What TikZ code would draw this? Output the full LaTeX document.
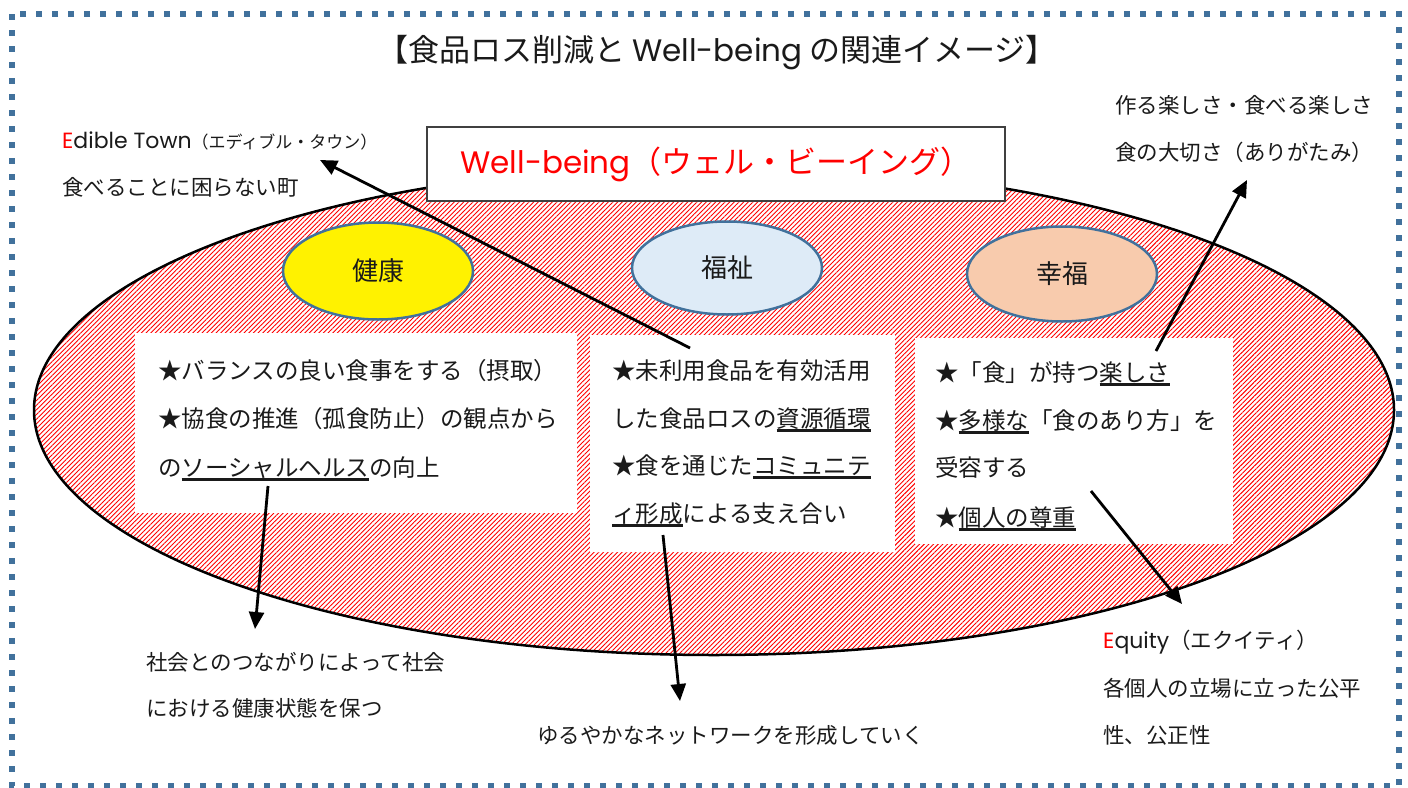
\documentclass[tikz,border=0pt]{standalone}
\usepackage{fontspec}
\setmainfont{Noto Sans CJK JP}
\newfontfamily\latinf{Poppins}
\usetikzlibrary{shapes.geometric,patterns.meta,arrows.meta}
\definecolor{bluegray}{HTML}{41719C}
\definecolor{ltblue}{HTML}{DEEBF7}
\definecolor{peach}{HTML}{F8CBAD}
\definecolor{txtcol}{HTML}{1A1A1A}
\newcommand\myul[1]{\setbox0=\hbox{#1}\rlap{\rule[-4.6pt]{\wd0}{2.6pt}}\box0}
\begin{document}
\begin{tikzpicture}[x=1pt,y=-1pt,
  bodytxt/.style={anchor=base west,inner sep=0pt,text=txtcol,font=\fontsize{23.5}{23.5}\selectfont},
  outtxt/.style={anchor=base west,inner sep=0pt,text=txtcol,font=\fontsize{21.5}{21.5}\selectfont},
  whitebox/.style={fill=white,draw=none,inner sep=0pt},
  smallell/.style={ellipse,draw=bluegray,line width=2.5pt,inner sep=0pt,font=\fontsize{26}{26}\selectfont,text=txtcol},
  arr/.style={line width=2.8pt,-{Triangle[length=17pt,width=15pt]}},
]
\useasboundingbox (0,0) rectangle (1408,787);
\fill[white] (0,0) rectangle (1408,787);
\draw[bluegray,line width=6pt,dash pattern=on 6pt off 10pt] (12,14) rectangle (1399,786);

\node[ellipse,draw=black,line width=2.5pt,minimum width=1360pt,minimum height=490pt,inner sep=0pt,
  pattern={Lines[angle=45,distance=3.3pt,line width=0.9pt]},pattern color=red] (big) at (714,410) {};

\node[font=\fontsize{31}{31}\selectfont,text=txtcol,inner sep=0pt] (title) at (717,53) {【食品ロス削減と {\latinf Well-being} の関連イメージ】};

\node[draw=black!75,line width=1.2pt,fill=white,minimum width=578pt,minimum height=74pt,inner sep=0pt,
  text=red,font=\fontsize{31}{31}\selectfont] (wb) at (716,164) {{\latinf Well-being}（ウェル・ビーイング）};

\node[smallell,fill=yellow,minimum width=190pt,minimum height=97pt] (kenko) at (378,271) {健康};
\node[smallell,fill=ltblue,minimum width=190pt,minimum height=93pt] (fukushi) at (727,268) {福祉};
\node[smallell,fill=peach,minimum width=190pt,minimum height=95pt] (kofuku) at (1062,274) {幸福};

\node[whitebox,minimum width=442pt,minimum height=180pt] (box1) at (356,423) {};
\node[whitebox,minimum width=305pt,minimum height=217pt] (box2) at (742.5,443.5) {};
\node[whitebox,minimum width=318pt,minimum height=206pt] (box3) at (1074,441) {};

\node[bodytxt] (b1a) at (158,379) {★バランスの良い食事をする（摂取）};
\node[bodytxt] (b1b) at (158,427) {★協食の推進（孤食防止）の観点から};
\node[bodytxt] (b1c) at (158,476) {の\myul{ソーシャルヘルス}の向上};

\node[bodytxt] (b2a) at (612,379) {★未利用食品を有効活用};
\node[bodytxt] (b2b) at (612,427) {した食品ロスの\myul{資源循環}};
\node[bodytxt] (b2c) at (612,474) {★食を通じた\myul{コミュニテ}};
\node[bodytxt] (b2d) at (612,522) {\myul{ィ形成}による支え合い};

\node[bodytxt] (b3a) at (935,381) {★「食」が持つ\myul{楽しさ}};
\node[bodytxt] (b3b) at (935,429) {★\myul{多様な}「食のあり方」を};
\node[bodytxt] (b3c) at (935,476) {受容する};
\node[bodytxt] (b3d) at (935,526) {★\myul{個人の尊重}};

\node[outtxt] (edible) at (62,148) {{\latinf\fontsize{22}{22}\selectfont\textcolor{red}{E}dible Town}{\fontsize{17}{17}\selectfont（エディブル・タウン）}};
\node[outtxt] (edible2) at (62,195) {食べることに困らない町};
\node[outtxt] (tano1) at (1115,113) {作る楽しさ・食べる楽しさ};
\node[outtxt] (tano2) at (1115,160) {食の大切さ（ありがたみ）};
\node[outtxt] (shakai1) at (146,670) {社会とのつながりによって社会};
\node[outtxt] (shakai2) at (146,716) {における健康状態を保つ};
\node[outtxt] (yuru) at (537,743) {ゆるやかなネットワークを形成していく};
\node[outtxt] (eq1) at (1103,648) {{\latinf\fontsize{22}{22}\selectfont\textcolor{red}{E}quity}（エクイティ）};
\node[outtxt] (eq2) at (1103,696) {各個人の立場に立った公平};
\node[outtxt] (eq3) at (1103,743) {性、公正性};

\coordinate (a1s) at (690,348); \coordinate (a1e) at (320,160);
\coordinate (a2s) at (268,486); \coordinate (a2e) at (255,629);
\coordinate (a3s) at (663,535); \coordinate (a3e) at (680,701);
\coordinate (a4s) at (1156,351); \coordinate (a4e) at (1247,180);
\coordinate (a5s) at (1091,491); \coordinate (a5e) at (1182,604);
\draw[arr] (a1s) -- (a1e);
\draw[arr] (a2s) -- (a2e);
\draw[arr] (a3s) -- (a3e);
\draw[arr] (a4s) -- (a4e);
\draw[arr] (a5s) -- (a5e);
\end{tikzpicture}
\end{document}
